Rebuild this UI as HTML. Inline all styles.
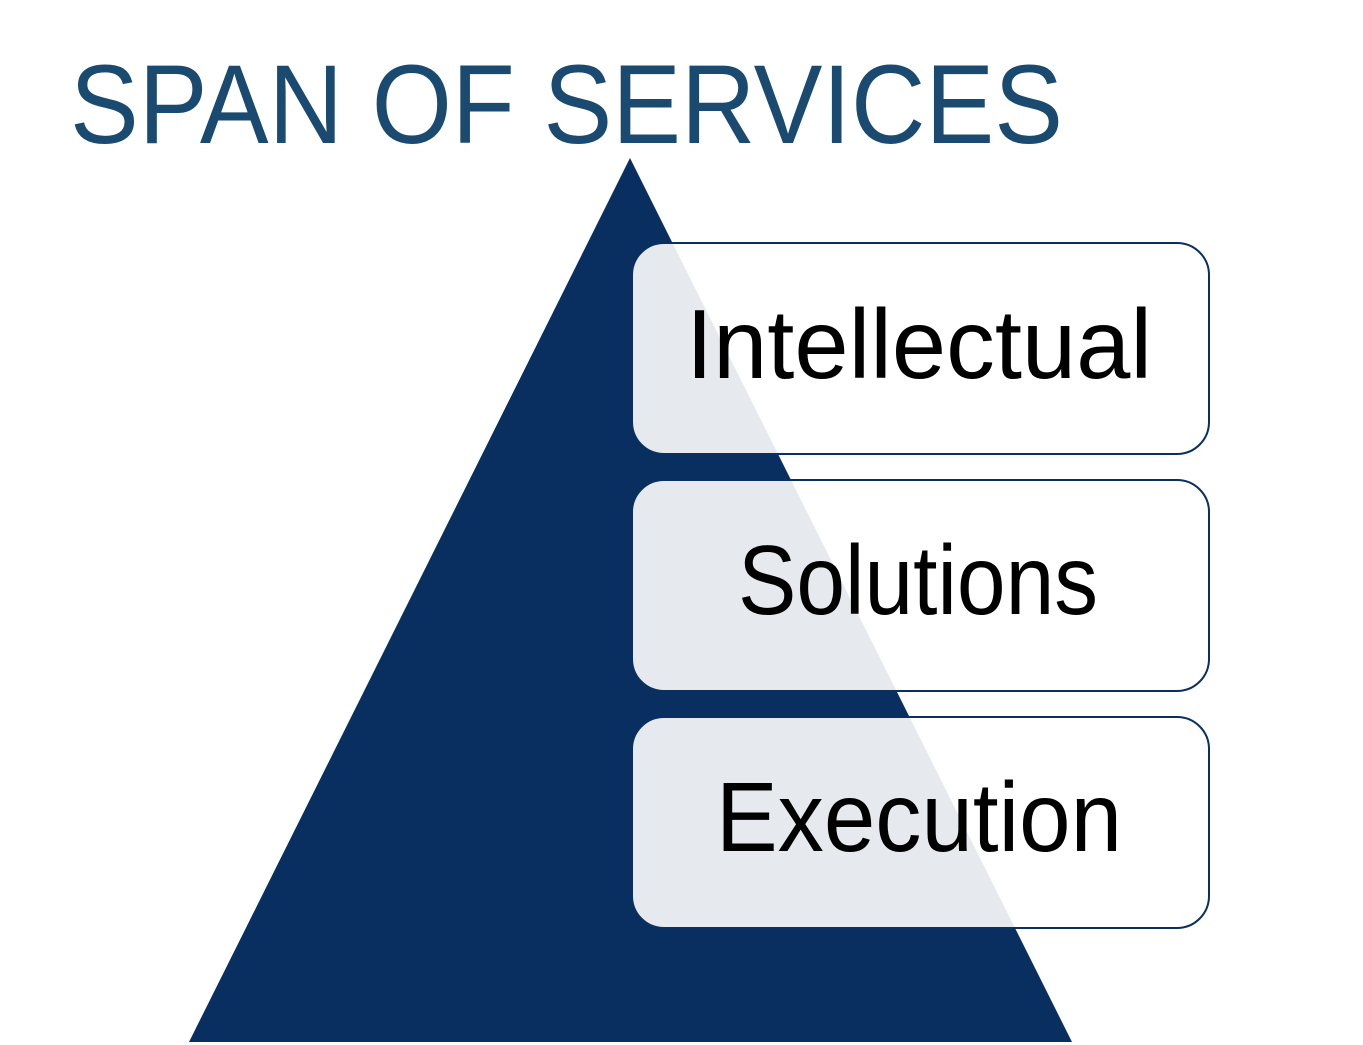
<!DOCTYPE html>
<html>
<head>
<meta charset="utf-8">
<style>
html,body{margin:0;padding:0;background:#fff;}
svg{display:block;}
</style>
</head>
<body>
<svg width="1363" height="1045" viewBox="0 0 1363 1045" xmlns="http://www.w3.org/2000/svg">
  <rect width="1363" height="1045" fill="#fff"/>
  <text x="70" y="143" font-family="Liberation Sans, sans-serif" font-size="112" fill="#1b4a70" textLength="993" lengthAdjust="spacingAndGlyphs">SPAN OF SERVICES</text>
  <polygon points="630,158 1072,1042 189,1042" fill="#082f5f"/>
  <g fill="rgba(255,255,255,0.9)" stroke="#0b2f5e" stroke-width="2">
    <rect x="632" y="243" width="577" height="211" rx="32"/>
    <rect x="632" y="480" width="577" height="211" rx="32"/>
    <rect x="632" y="717" width="577" height="211" rx="32"/>
  </g>
  <g font-family="Liberation Sans, sans-serif" font-size="98" fill="#000" lengthAdjust="spacingAndGlyphs">
    <text x="686" y="378" textLength="466" lengthAdjust="spacingAndGlyphs">Intellectual</text>
    <text x="738" y="614" textLength="360" lengthAdjust="spacingAndGlyphs">Solutions</text>
    <text x="716" y="851" textLength="406" lengthAdjust="spacingAndGlyphs">Execution</text>
  </g>
</svg>
</body>
</html>
